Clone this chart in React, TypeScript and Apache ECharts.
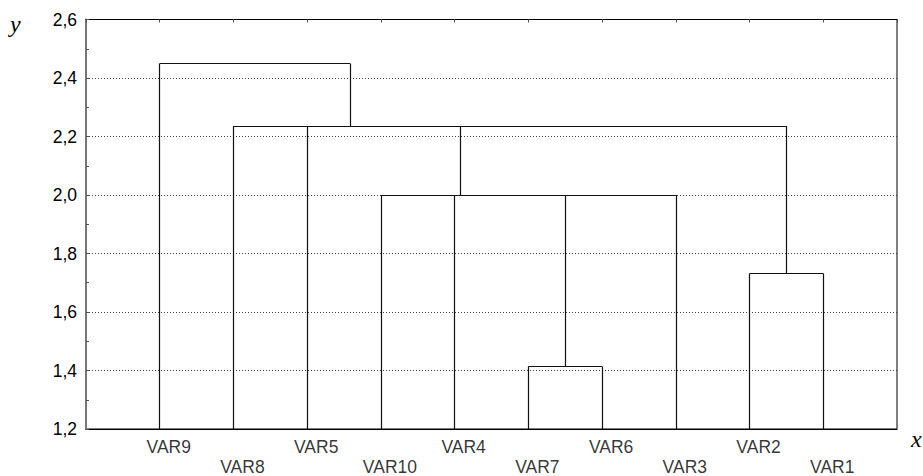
import React, { useEffect, useRef } from 'react';
import * as echarts from 'echarts';

// Leaf order along the x axis (positions 1..10)
const leaves = ['VAR9', 'VAR8', 'VAR5', 'VAR10', 'VAR4', 'VAR7', 'VAR6', 'VAR3', 'VAR2', 'VAR1'];
// Merge (linkage) distances
const mergeHeights = [1.414, 1.732, 2.0, 2.236, 2.45];
// Members joined at each merge ("m<i>" = result of merge i)
const mergeChildren = [
  ['VAR7', 'VAR6'],
  ['VAR2', 'VAR1'],
  ['VAR10', 'VAR4', 'm0', 'VAR3'],
  ['VAR8', 'VAR5', 'm2', 'm1'],
  ['VAR9', 'm3'],
];
// x position (in leaf units) where each merged cluster's stem rises
const mergeStemX = [6.5, 9.5, 5.07, 3.58, 2.3];
const yMin = 1.2;
const yMax = 2.6;
const yStep = 0.2;

function buildSegments() {
  const segs: { coords: number[][] }[] = [];
  mergeChildren.forEach((kids, i) => {
    const h = mergeHeights[i];
    const xs: number[] = [];
    kids.forEach((k) => {
      let x: number;
      let b: number;
      if (k.startsWith('m')) {
        const j = Number(k.slice(1));
        x = mergeStemX[j];
        b = mergeHeights[j];
      } else {
        x = leaves.indexOf(k) + 1;
        b = yMin;
      }
      xs.push(x);
      segs.push({ coords: [[x, b], [x, h]] });
    });
    segs.push({ coords: [[Math.min(...xs), h], [Math.max(...xs), h]] });
  });
  return segs;
}

export default function App() {
  const ref = useRef<HTMLDivElement>(null);
  useEffect(() => {
    if (!ref.current) return;
    const chart = echarts.init(ref.current, undefined, { renderer: 'svg' });
    const font = "'Liberation Sans', Arial, sans-serif";
    const labelData = leaves.map((name, i) => ({
      name,
      value: [i + 1, yMin],
      label: { offset: [9, i % 2 === 0 ? 17.5 : 37.5] },
    }));
    chart.setOption({
      animation: false,
      backgroundColor: '#ffffff',
      grid: {
        left: 86,
        top: 19.5,
        right: 26,
        bottom: 47,
        show: true,
        borderColor: '#000',
        borderWidth: 1,
        backgroundColor: 'transparent',
      },
      xAxis: [
        {
          type: 'value',
          min: 0,
          max: leaves.length + 1,
          interval: 1,
          position: 'bottom',
          axisLine: { show: true, lineStyle: { color: '#000', width: 1 } },
          axisTick: { show: false },
          axisLabel: { show: false },
          splitLine: { show: false },
        },
        {
          type: 'value',
          min: 0,
          max: leaves.length + 1,
          interval: 1,
          position: 'top',
          axisLine: { show: true, lineStyle: { color: '#000', width: 1 } },
          axisTick: { show: true, inside: true, length: 3, lineStyle: { color: '#555' } },
          axisLabel: { show: false },
          splitLine: { show: false },
        },
      ],
      yAxis: {
        type: 'value',
        min: yMin,
        max: yMax,
        interval: yStep,
        axisLine: { show: true, lineStyle: { color: '#777', width: 2 } },
        axisTick: { show: true, inside: true, length: 3, lineStyle: { color: '#555' } },
        minorTick: { show: true, splitNumber: 2, length: 3, lineStyle: { color: '#555' } },
        axisLabel: {
          margin: 9,
          color: '#000',
          fontSize: 17.5,
          fontFamily: font,
          formatter: (v: number) => v.toFixed(1).replace('.', ','),
        },
        splitLine: {
          show: true,
          lineStyle: { color: '#444', width: 1, type: [1, 2] },
        },
      },
      graphic: [
        {
          type: 'text',
          left: 10,
          top: 12,
          style: {
            text: 'y',
            font: "italic 24px 'Liberation Serif', 'DejaVu Serif', serif",
            fill: '#000',
          },
        },
        {
          type: 'text',
          left: 911,
          top: 427,
          style: {
            text: 'x',
            font: "italic 24px 'Liberation Serif', 'DejaVu Serif', serif",
            fill: '#000',
          },
        },
      ],
      series: [
        {
          type: 'lines',
          coordinateSystem: 'cartesian2d',
          xAxisIndex: 0,
          yAxisIndex: 0,
          polyline: false,
          silent: true,
          lineStyle: { color: '#111', width: 1.2, opacity: 1 },
          data: buildSegments(),
          z: 5,
        },
        {
          type: 'scatter',
          xAxisIndex: 0,
          yAxisIndex: 0,
          symbolSize: 0,
          silent: true,
          itemStyle: { color: 'transparent' },
          label: {
            show: true,
            position: 'inside',
            formatter: '{b}',
            color: '#000',
            fontSize: 17.5,
            fontFamily: font,
          },
          data: labelData,
        },
      ],
    });
    return () => chart.dispose();
  }, []);
  return (
    <div
      ref={ref}
      style={{ position: 'fixed', left: 0, top: 0, width: 923, height: 476 }}
    />
  );
}
